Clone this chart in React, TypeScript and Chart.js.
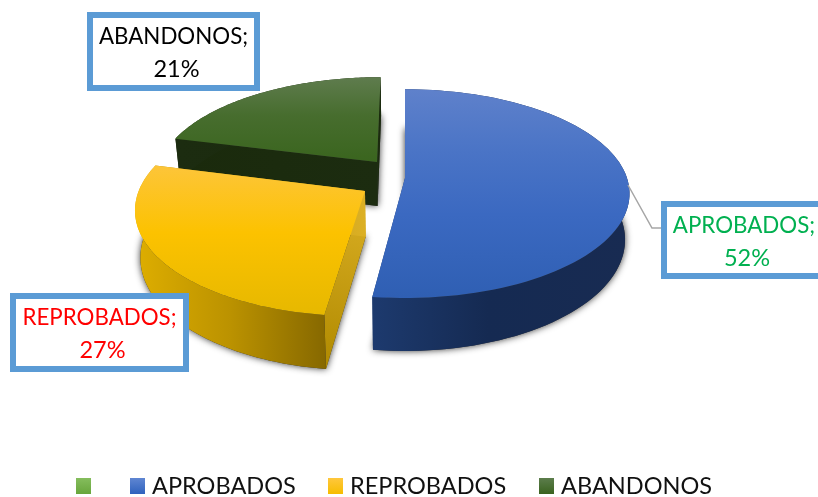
import React, { useEffect, useRef } from "react";
import { Chart, registerables } from "chart.js";

Chart.register(...registerables);

const categories = ["", "APROBADOS", "REPROBADOS", "ABANDONOS"];
const percents = [0, 52, 27, 21];
const sliceColors = ["#70AD47", "#4472C4", "#FFC000", "#3F6B22"];
const labelColors = ["#000000", "#00B050", "#FF0000", "#000000"];

const VIEW = { x0: 405, y0: 178, a: 222, b: 102, k: 0.15, h: 45, shrink: 0.98 };
const EXPLODE: Record<number, [number, number]> = {
  1: [0, 0],
  2: [-0.177, 0.125],
  3: [-0.129, -0.161],
};
const TOP_STOPS: Record<number, [number, number, [number, string][]]> = {
  1: [89, 298, [[0, "#5f81cb"], [0.3, "#4a74c6"], [0.6, "#3b69c1"], [1, "#2f5fb3"]]],
  2: [165, 316, [[0, "#fdc53a"], [0.45, "#fcc200"], [1, "#e6b800"]]],
  3: [77, 162, [[0, "#5f7c4e"], [0.45, "#476d2e"], [1, "#3a651e"]]],
};
const WALL_STOPS: Record<number, [number, number, [number, string][]]> = {
  1: [372, 630, [[0, "#1d3a6e"], [0.45, "#152a52"], [1, "#182b52"]]],
  2: [135, 326, [[0, "#deae00"], [0.5, "#bb9200"], [1, "#866800"]]],
  3: [176, 380, [[0, "#1c2c10"], [1, "#1a2a0e"]]],
};
const FACE_COLORS: Record<number, [string, string]> = {
  1: ["#1d3a6e", "#1d3a6e"],
  2: ["#dcb025", "#b08a00"],
  3: ["#1c2c10", "#1a2a0c"],
};
const BOXES: Record<number, [number, number, number, number]> = {
  1: [661, 201, 175, 78],
  2: [10, 293, 179, 79],
  3: [87, 12, 173, 79],
};
const LEADER: [number, number][] = [[628, 185], [652, 228], [661, 228]];
const LEGEND_X = [76, 130, 328, 539];
const LEGEND_STOPS = [
  ["#85bd5d", "#68a63c"],
  ["#5f86d2", "#2f62bd"],
  ["#ffc73d", "#f6bd00"],
  ["#5c7d4c", "#3a631f"],
];
const FONT = "24px Lato, 'Open Sans', sans-serif";

function project(u: number, v: number, z: number): [number, number] {
  const w = 1 - VIEW.k * v;
  const sx = z ? VIEW.shrink : 1;
  return [VIEW.x0 + (VIEW.a * u * sx) / w, VIEW.y0 + (VIEW.b * v + VIEW.h * z) / w];
}

function rimPoints(i: number, start: number, end: number, z: number) {
  const [ou, ov] = EXPLODE[i];
  const pts: [number, number][] = [];
  const n = 90;
  for (let s = 0; s <= n; s++) {
    const t = start + ((end - start) * s) / n;
    pts.push(project(ou + Math.cos(t), ov + Math.sin(t), z));
  }
  return pts;
}

function poly(ctx: CanvasRenderingContext2D, pts: [number, number][]) {
  ctx.beginPath();
  pts.forEach((p, j) => (j ? ctx.lineTo(p[0], p[1]) : ctx.moveTo(p[0], p[1])));
  ctx.closePath();
}

function grad(ctx: CanvasRenderingContext2D, x0: number, y0: number, x1: number, y1: number, stops: [number, string][]) {
  const g = ctx.createLinearGradient(x0, y0, x1, y1);
  stops.forEach(([o, c]) => g.addColorStop(o, c));
  return g;
}

function squeezedText(ctx: CanvasRenderingContext2D, text: string, x: number, y: number, sx: number) {
  ctx.save();
  ctx.translate(x, y);
  ctx.scale(sx, 1);
  ctx.fillText(text, 0, 0);
  ctx.restore();
}

const pie3d = {
  id: "pie3d",
  beforeDatasetsDraw(chart: any) {
    const ctx: CanvasRenderingContext2D = chart.ctx;
    const arcs = chart.getDatasetMeta(0).data;
    ctx.save();
    for (const i of [3, 1, 2]) {
      const { startAngle, endAngle } = arcs[i];
      const [ou, ov] = EXPLODE[i];
      const apexTop = project(ou, ov, 0);
      const apexBot = project(ou, ov, 1);
      const top = rimPoints(i, startAngle, endAngle, 0);
      const bot = rimPoints(i, startAngle, endAngle, 1);

      ctx.save();
      ctx.shadowColor = "rgba(0,0,0,0.8)";
      ctx.shadowBlur = 7;
      ctx.fillStyle = "#333";
      poly(ctx, [apexBot, ...bot]);
      ctx.fill();
      ctx.restore();

      const [f0, f1] = FACE_COLORS[i];
      for (const [r0, r1] of [
        [top[0], bot[0]],
        [top[top.length - 1], bot[bot.length - 1]],
      ]) {
        ctx.fillStyle = grad(ctx, apexTop[0], apexTop[1], r1[0], r1[1], [[0, f0], [1, f1]]);
        poly(ctx, [apexTop, r0, r1, apexBot]);
        ctx.fill();
      }

      const [wx0, wx1, wallStops] = WALL_STOPS[i];
      ctx.fillStyle = grad(ctx, wx0, 0, wx1, 0, wallStops);
      poly(ctx, [...top, ...bot.slice().reverse()]);
      ctx.fill();

      const [ty0, ty1, topStops] = TOP_STOPS[i];
      ctx.fillStyle = grad(ctx, 0, ty0, 0, ty1, topStops);
      poly(ctx, [apexTop, ...top]);
      ctx.fill();
    }

    ctx.strokeStyle = "#a6a6a6";
    ctx.lineWidth = 1.5;
    ctx.beginPath();
    LEADER.forEach((p, j) => (j ? ctx.lineTo(p[0], p[1]) : ctx.moveTo(p[0], p[1])));
    ctx.stroke();

    ctx.font = FONT;
    ctx.textAlign = "center";
    ctx.textBaseline = "alphabetic";
    for (const i of [1, 2, 3]) {
      const [x, y, w, h] = BOXES[i];
      ctx.fillStyle = "#5B9BD5";
      ctx.fillRect(x, y, w, h);
      ctx.fillStyle = "#ffffff";
      ctx.fillRect(x + 6, y + 6, w - 12, h - 12);
      ctx.fillStyle = labelColors[i];
      const cx = i === 1 ? 744 : x + w / 2;
      squeezedText(ctx, categories[i] + ";", cx, y + 32, 0.93);
      squeezedText(ctx, percents[i] + "%", cx + 3, y + 65, 0.98);
    }

    ctx.textAlign = "left";
    categories.forEach((name, i) => {
      const x = LEGEND_X[i];
      ctx.fillStyle = grad(ctx, 0, 478, 0, 494, [[0, LEGEND_STOPS[i][0]], [1, LEGEND_STOPS[i][1]]]);
      ctx.fillRect(x, 478, 15, 16);
      ctx.fillStyle = "#111111";
      if (name) squeezedText(ctx, name, x + 22, 494, 0.98);
    });
    ctx.restore();
    return false;
  },
};

export default function App() {
  const ref = useRef<HTMLCanvasElement>(null);
  useEffect(() => {
    document.body.style.margin = "0";
    const chart = new Chart(ref.current as HTMLCanvasElement, {
      type: "pie",
      data: {
        labels: categories,
        datasets: [{ data: percents, backgroundColor: sliceColors }],
      },
      options: {
        animation: false,
        responsive: false,
        plugins: { legend: { display: false }, tooltip: { enabled: false } },
      },
      plugins: [pie3d],
    } as any);
    return () => chart.destroy();
  }, []);
  return (
    <div style={{ width: 818, height: 497, overflow: "hidden", background: "#fff" }}>
      <canvas ref={ref} width={818} height={497} style={{ display: "block" }} />
    </div>
  );
}
